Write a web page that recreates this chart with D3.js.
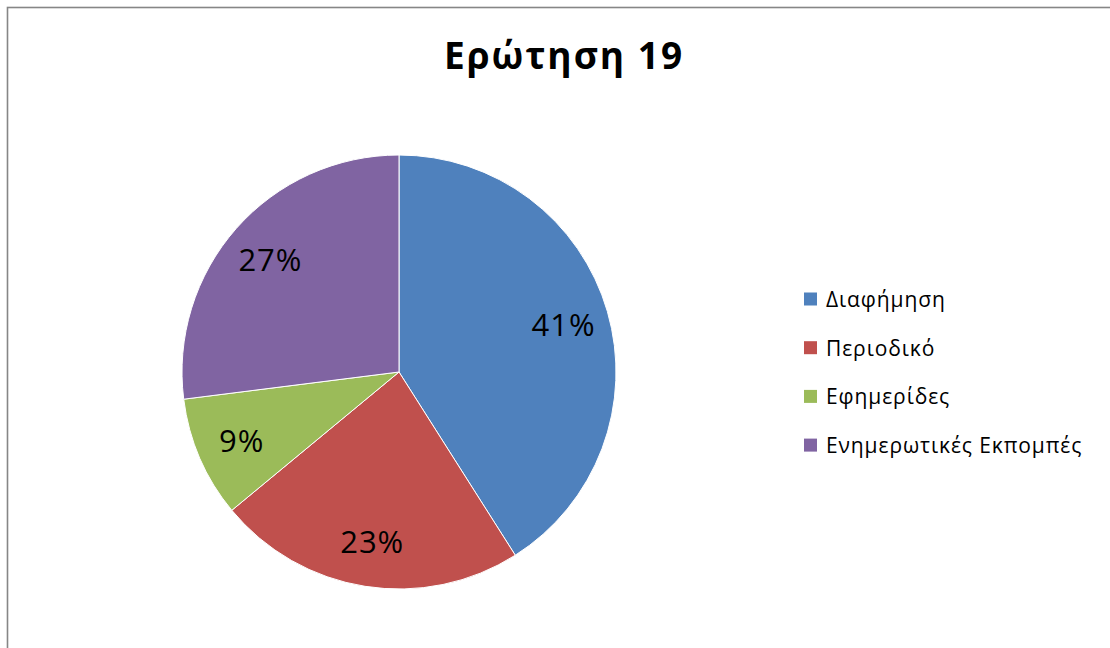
<!DOCTYPE html>
<html>
<head>
<meta charset="utf-8">
<script src="https://cdn.jsdelivr.net/npm/d3@7"></script>
<style>
  html, body { margin: 0; padding: 0; background: #fff; }
  svg { display: block; }
  text { font-family: "Open Sans", "Noto Sans", sans-serif; fill: #000; }
</style>
</head>
<body>
<svg id="chart" width="1110" height="648"></svg>
<script>
// Survey answers for question 19
const categories = ["Διαφήμηση", "Περιοδικό", "Εφημερίδες", "Ενημερωτικές Εκπομπές"];
const values = [41, 23, 9, 27];
const colors = ["#4f81bd", "#c0504d", "#9bbb59", "#8064a2"];
const title = "Ερώτηση 19";

const svg = d3.select("#chart");
const W = 1110, H = 648;

// chart frame (extends past the right and bottom edges)
svg.append("rect")
  .attr("x", 7.5).attr("y", 7.5)
  .attr("width", W + 20).attr("height", H + 20)
  .attr("fill", "#fff")
  .attr("stroke", "#868686")
  .attr("stroke-width", 1.6);

svg.append("text")
  .attr("x", 564).attr("y", 69)
  .attr("text-anchor", "middle")
  .attr("font-size", 37)
  .attr("font-weight", "bold")
  .attr("letter-spacing", 2)
  .text(title);

const cx = 399, cy = 372, r = 217;
const color = d3.scaleOrdinal().domain(categories).range(colors);
const total = d3.sum(values);
const data = categories.map((c, i) => ({ cat: c, value: values[i] }));

const pie = d3.pie().value(d => d.value).sort(null);
const arc = d3.arc().innerRadius(0).outerRadius(r);
const labelArc = d3.arc().innerRadius(r * 0.79).outerRadius(r * 0.79);

const g = svg.append("g").attr("transform", `translate(${cx},${cy})`);
const arcs = pie(data);

g.selectAll("path.slice")
  .data(arcs)
  .join("path")
  .attr("class", "slice")
  .attr("d", arc)
  .attr("fill", d => color(d.data.cat))
  .attr("stroke", "#fff")
  .attr("stroke-width", 1);

g.selectAll("text.pct")
  .data(arcs)
  .join("text")
  .attr("class", "pct")
  .attr("transform", d => `translate(${labelArc.centroid(d)})`)
  .attr("text-anchor", "middle")
  .attr("dominant-baseline", "central")
  .attr("font-size", 31)
  .attr("letter-spacing", 1)
  .text(d => Math.round(d.data.value / total * 100) + "%");

// legend
const legend = svg.append("g").attr("transform", "translate(804,299)");
const rowH = 48.7;
const items = legend.selectAll("g.item")
  .data(categories)
  .join("g")
  .attr("class", "item")
  .attr("transform", (d, i) => `translate(0,${i * rowH})`);

items.append("rect")
  .attr("x", 0).attr("y", -6.5)
  .attr("width", 13).attr("height", 13)
  .attr("fill", d => color(d));

items.append("text")
  .attr("x", 22).attr("y", 0)
  .attr("dominant-baseline", "central")
  .attr("font-size", 21)
  .attr("letter-spacing", 0.9)
  .text(d => d);
</script>
</body>
</html>
